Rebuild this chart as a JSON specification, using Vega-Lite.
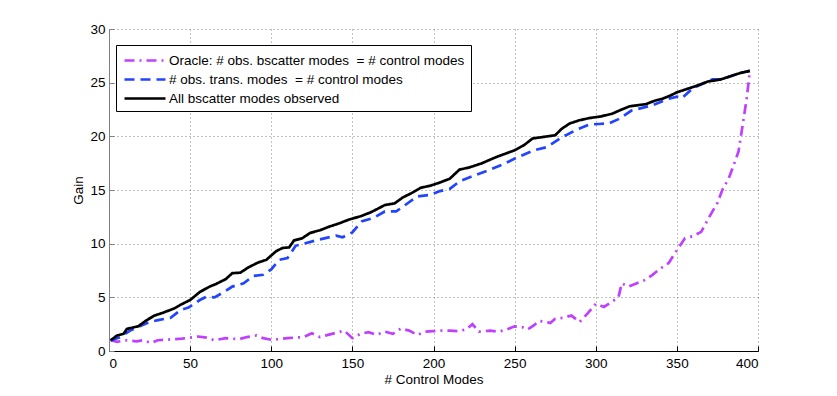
{
 "$schema": "https://vega.github.io/schema/vega-lite/v6.json",
 "width": 649,
 "height": 322,
 "autosize": {"type": "none"},
 "padding": {"left": 109, "top": 29, "right": 79, "bottom": 45},
 "background": "white",
 "config": {"view": {"stroke": null}, "font": "Liberation Sans"},
 "datasets": {
  "oracle": [
   {"x":1,"g":1.0},{"x":5,"g":0.85},{"x":10,"g":1.0},{"x":17,"g":0.9},{"x":21,"g":1.0},{"x":26,"g":0.75},{"x":30,"g":1.0},{"x":40,"g":1.1},{"x":45,"g":1.15},{"x":50,"g":1.25},{"x":55,"g":1.35},{"x":60,"g":1.25},{"x":65,"g":1.0},{"x":72,"g":1.2},{"x":80,"g":1.1},{"x":85,"g":1.3},{"x":91,"g":1.45},{"x":95,"g":1.2},{"x":100,"g":1.05},{"x":105,"g":1.1},{"x":110,"g":1.2},{"x":120,"g":1.3},{"x":125,"g":1.65},{"x":130,"g":1.3},{"x":135,"g":1.5},{"x":140,"g":1.7},{"x":145,"g":1.9},{"x":150,"g":1.2},{"x":155,"g":1.6},{"x":160,"g":1.75},{"x":165,"g":1.5},{"x":170,"g":1.8},{"x":175,"g":1.6},{"x":180,"g":2.1},{"x":185,"g":1.9},{"x":190,"g":1.5},{"x":195,"g":1.8},{"x":200,"g":1.85},{"x":205,"g":1.9},{"x":210,"g":1.9},{"x":215,"g":1.85},{"x":220,"g":2.0},{"x":224,"g":2.5},{"x":228,"g":1.8},{"x":235,"g":1.9},{"x":240,"g":1.8},{"x":245,"g":2.0},{"x":250,"g":2.3},{"x":255,"g":2.2},{"x":258,"g":2.0},{"x":262,"g":2.4},{"x":265,"g":2.8},{"x":270,"g":2.7},{"x":272,"g":2.6},{"x":275,"g":3.0},{"x":280,"g":3.1},{"x":285,"g":3.3},{"x":290,"g":2.7},{"x":295,"g":3.5},{"x":300,"g":4.4},{"x":305,"g":4.1},{"x":310,"g":4.6},{"x":314,"g":5.0},{"x":316,"g":6.3},{"x":320,"g":6.0},{"x":325,"g":6.3},{"x":330,"g":6.6},{"x":335,"g":7.1},{"x":340,"g":7.7},{"x":345,"g":8.2},{"x":350,"g":9.4},{"x":355,"g":10.5},{"x":360,"g":10.7},{"x":365,"g":11.1},{"x":370,"g":12.5},{"x":375,"g":13.8},{"x":378,"g":15.0},{"x":382,"g":16.1},{"x":385,"g":17.3},{"x":388,"g":18.6},{"x":391,"g":21.5},{"x":393,"g":23.5},{"x":395,"g":26.1}
  ],
  "trans": [
   {"x":1,"g":0.97},{"x":7,"g":1.3},{"x":13,"g":1.9},{"x":19,"g":2.3},{"x":25,"g":2.7},{"x":31,"g":2.9},{"x":38,"g":3.1},{"x":44,"g":3.8},{"x":49,"g":4.05},{"x":56,"g":4.75},{"x":60,"g":5.05},{"x":65,"g":5.0},{"x":71,"g":5.5},{"x":76,"g":6.0},{"x":83,"g":6.3},{"x":89,"g":7.0},{"x":95,"g":7.1},{"x":100,"g":7.6},{"x":105,"g":8.5},{"x":110,"g":8.65},{"x":115,"g":9.8},{"x":120,"g":10.0},{"x":130,"g":10.4},{"x":140,"g":10.75},{"x":144,"g":10.6},{"x":150,"g":11.05},{"x":156,"g":12.1},{"x":163,"g":12.4},{"x":170,"g":13.0},{"x":177,"g":13.0},{"x":183,"g":13.65},{"x":190,"g":14.4},{"x":198,"g":14.55},{"x":204,"g":14.9},{"x":210,"g":15.1},{"x":216,"g":15.8},{"x":226,"g":16.4},{"x":235,"g":16.9},{"x":243,"g":17.4},{"x":251,"g":18.0},{"x":262,"g":18.7},{"x":270,"g":19.0},{"x":279,"g":19.9},{"x":288,"g":20.6},{"x":296,"g":21.1},{"x":302,"g":21.15},{"x":308,"g":21.2},{"x":314,"g":21.6},{"x":322,"g":22.4},{"x":335,"g":22.9},{"x":345,"g":23.5},{"x":350,"g":23.7},{"x":353,"g":23.55},{"x":360,"g":24.5},{"x":366,"g":24.9},{"x":372,"g":25.3},{"x":377,"g":25.3},{"x":383,"g":25.6},{"x":389,"g":25.9},{"x":395,"g":26.1}
  ],
  "all": [
   {"x":1,"g":1.0},{"x":5,"g":1.45},{"x":9,"g":1.6},{"x":11,"g":2.05},{"x":15,"g":2.2},{"x":18,"g":2.3},{"x":23,"g":2.85},{"x":28,"g":3.3},{"x":33,"g":3.55},{"x":40,"g":3.95},{"x":44,"g":4.3},{"x":50,"g":4.75},{"x":56,"g":5.5},{"x":62,"g":6.0},{"x":66,"g":6.25},{"x":72,"g":6.7},{"x":76,"g":7.25},{"x":81,"g":7.3},{"x":86,"g":7.8},{"x":92,"g":8.25},{"x":97,"g":8.5},{"x":100,"g":8.9},{"x":103,"g":9.3},{"x":107,"g":9.6},{"x":111,"g":9.65},{"x":114,"g":10.3},{"x":119,"g":10.5},{"x":124,"g":11.0},{"x":130,"g":11.25},{"x":136,"g":11.6},{"x":142,"g":11.9},{"x":148,"g":12.25},{"x":155,"g":12.55},{"x":161,"g":12.9},{"x":165,"g":13.2},{"x":170,"g":13.6},{"x":176,"g":13.75},{"x":181,"g":14.3},{"x":187,"g":14.75},{"x":192,"g":15.2},{"x":198,"g":15.4},{"x":204,"g":15.7},{"x":210,"g":16.05},{"x":216,"g":16.9},{"x":222,"g":17.1},{"x":230,"g":17.5},{"x":236,"g":17.9},{"x":241,"g":18.2},{"x":250,"g":18.7},{"x":256,"g":19.2},{"x":261,"g":19.8},{"x":268,"g":19.95},{"x":275,"g":20.1},{"x":279,"g":20.7},{"x":284,"g":21.2},{"x":290,"g":21.5},{"x":296,"g":21.7},{"x":303,"g":21.85},{"x":310,"g":22.1},{"x":316,"g":22.5},{"x":321,"g":22.8},{"x":326,"g":22.9},{"x":331,"g":23.0},{"x":336,"g":23.3},{"x":341,"g":23.5},{"x":346,"g":23.8},{"x":350,"g":24.1},{"x":356,"g":24.4},{"x":362,"g":24.7},{"x":369,"g":25.1},{"x":377,"g":25.3},{"x":383,"g":25.6},{"x":389,"g":25.9},{"x":395,"g":26.1}
  ]
 },
 "layer": [
  {
   "data": {"name": "oracle"},
   "transform": [{"calculate": "'Oracle: # obs. bscatter modes \u00a0= # control modes'", "as": "series"}],
   "mark": {"type": "line", "strokeWidth": 2.7},
   "encoding": {
    "x": {"field": "x", "type": "quantitative"},
    "y": {"field": "g", "type": "quantitative"},
    "color": {"field": "series"},
    "strokeDash": {"field": "series"}
   }
  },
  {
   "data": {"name": "trans"},
   "transform": [{"calculate": "'# obs. trans. modes \u00a0= # control modes'", "as": "series"}],
   "mark": {"type": "line", "strokeWidth": 2.7},
   "encoding": {
    "x": {"field": "x", "type": "quantitative"},
    "y": {"field": "g", "type": "quantitative"},
    "color": {"field": "series"},
    "strokeDash": {"field": "series"}
   }
  },
  {
   "data": {"name": "all"},
   "transform": [{"calculate": "'All bscatter modes observed'", "as": "series"}],
   "mark": {"type": "line", "strokeWidth": 2.7},
   "encoding": {
    "x": {"field": "x", "type": "quantitative"},
    "y": {"field": "g", "type": "quantitative"},
    "color": {"field": "series"},
    "strokeDash": {"field": "series"}
   }
  }
 ],
 "encoding": {
  "x": {"field": "x", "type": "quantitative",
   "scale": {"domain": [0, 400], "nice": false},
   "axis": {"title": "# Control Modes", "values": [0,50,100,150,200,250,300,350,400], "grid": true, "gridDash": [1,3], "gridColor": "#808080", "gridOpacity": 1, "domainColor": "#000000", "tickColor": "#000000", "tickSize": -5, "labelPadding": 10, "labelFontSize": 13.5, "labelColor": "#000000", "titleFontSize": 13.5, "titleFontWeight": "normal", "titleColor": "#000000", "titlePadding": 3}},
  "y": {"field": "g", "type": "quantitative",
   "scale": {"domain": [0, 30], "nice": false},
   "axis": {"title": "Gain", "values": [0,5,10,15,20,25,30], "grid": true, "gridDash": [1,3], "gridColor": "#808080", "gridOpacity": 1, "domainColor": "#808080", "tickColor": "#808080", "tickSize": -5, "labelPadding": 9, "labelFontSize": 13.5, "labelColor": "#000000", "titleFontSize": 13.5, "titleFontWeight": "normal", "titleColor": "#000000", "titlePadding": 4}},
  "color": {"field": "series", "type": "nominal",
   "scale": {"domain": ["Oracle: # obs. bscatter modes \u00a0= # control modes", "# obs. trans. modes \u00a0= # control modes", "All bscatter modes observed"], "range": ["#bf40ff", "#2244ff", "#000000"]},
   "legend": {"orient": "none", "legendX": 7, "legendY": 16, "title": null, "fillColor": "white", "strokeColor": "#000000", "padding": 6, "symbolType": "M-0.875,0H4.25", "symbolSize": 256, "symbolStrokeWidth": 2.7, "labelFontSize": 13.5, "labelColor": "#000000", "labelOffset": 28, "labelLimit": 0, "rowPadding": 3}},
  "strokeDash": {"field": "series", "type": "nominal",
   "scale": {"domain": ["Oracle: # obs. bscatter modes \u00a0= # control modes", "# obs. trans. modes \u00a0= # control modes", "All bscatter modes observed"], "range": [[10,5,2,5],[10,6],[1,0]]},
   "legend": {"orient": "none", "legendX": 7, "legendY": 16, "title": null}}
 }
}
